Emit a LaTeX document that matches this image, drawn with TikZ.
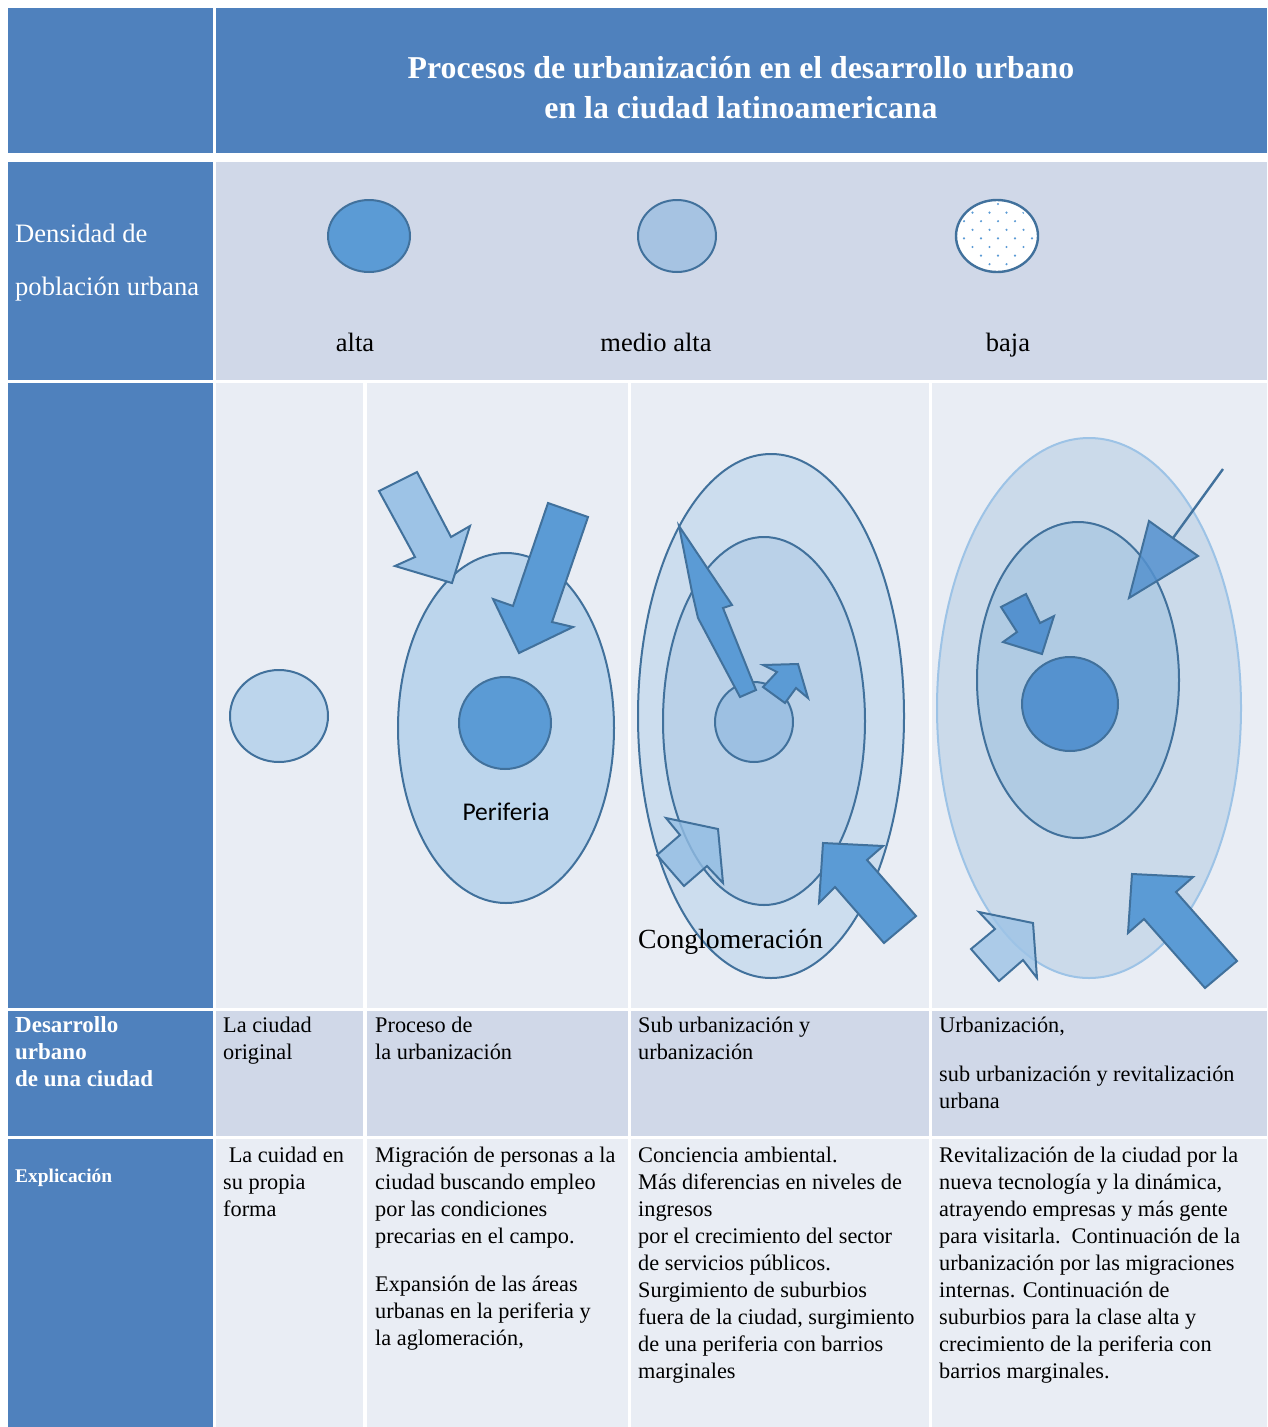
\documentclass[tikz,border=0pt]{standalone}
\usepackage{fontspec}
\setmainfont{Liberation Serif}
\newfontfamily\sansf{Carlito}
\definecolor{cblue}{HTML}{4F81BD}
\definecolor{cmid}{HTML}{D0D8E8}
\definecolor{clight}{HTML}{E9EDF4}
\definecolor{cstroke}{HTML}{41719C}
\definecolor{cdark}{HTML}{5B9BD5}
\definecolor{clightarrow}{HTML}{9DC3E6}
\definecolor{ccircA}{HTML}{BCD5EC}
\definecolor{cmedio}{HTML}{A6C3E2}
\definecolor{couterC}{HTML}{CCDDEE}
\definecolor{cinnerC}{HTML}{BAD1E8}
\definecolor{csmallC}{HTML}{9DC0E2}
\definecolor{couterD}{HTML}{C8D8EA}
\definecolor{cinnerD}{HTML}{B0CBE3}
\definecolor{ccoreD}{HTML}{5592CF}
\tikzset{
  shapeline/.style={draw=cstroke, line width=2pt},
  darkarrow/.style={shapeline, fill=cdark, line join=miter},
  lightarrow/.style={shapeline, fill=clightarrow, fill opacity=0.8, line join=miter},
  bodytext/.style={anchor=base west, inner sep=0pt, font=\fontsize{22.3}{27}\selectfont},
  headtext/.style={anchor=base west, inner sep=0pt, text=white},
}
\newcommand{\cellbox}[2]{\parbox[t]{#1}{\raggedright #2}}
\begin{document}
\begin{tikzpicture}[x=1pt,y=-1pt]
\useasboundingbox (0,0) rectangle (1268,1427);
\fill[white] (0,0) rectangle (1268,1427);
% ---------- table cells ----------
\fill[cblue] (8,8) rectangle (213,153);
\fill[cblue] (216,8) rectangle (1267,153);
\fill[cblue] (8,162) rectangle (213,380);
\fill[cmid] (216,162) rectangle (1267,380);
\fill[cblue] (8,383) rectangle (213,1008);
\fill[clight] (216,383) rectangle (363,1008);
\fill[clight] (367,383) rectangle (628,1008);
\fill[clight] (631,383) rectangle (929,1008);
\fill[clight] (932,383) rectangle (1267,1008);
\fill[cblue] (8,1011) rectangle (213,1136);
\fill[cmid] (216,1011) rectangle (363,1136);
\fill[cmid] (367,1011) rectangle (628,1136);
\fill[cmid] (631,1011) rectangle (929,1136);
\fill[cmid] (932,1011) rectangle (1267,1136);
\fill[cblue] (8,1139) rectangle (213,1427);
\fill[clight] (216,1139) rectangle (363,1427);
\fill[clight] (367,1139) rectangle (628,1427);
\fill[clight] (631,1139) rectangle (929,1427);
\fill[clight] (932,1139) rectangle (1267,1427);
% ---------- title ----------
\node[text=white, font=\bfseries\fontsize{31.8}{40}\selectfont, align=center] (title) at (741,88)
  {Procesos de urbanización en el desarrollo urbano\\en la ciudad latinoamericana};
% ---------- density row ----------
\node[headtext, font=\fontsize{26.6}{53}\selectfont] (dens) at (15,242)
  {\cellbox{200pt}{Densidad de\\población urbana}};
\filldraw[shapeline, fill=cdark] (369,236) ellipse [x radius=41, y radius=36];
\filldraw[shapeline, fill=cmedio] (677,236) ellipse [x radius=39, y radius=36];
\filldraw[shapeline, fill=white, line width=2.4pt] (997,236) ellipse [x radius=41, y radius=36];
\begin{scope}
  \clip (997,236) ellipse [x radius=38, y radius=33];
  \foreach \j in {0,2,4,6,8} {
    \foreach \k in {-3,...,3} {
      \fill[cdark] ({998+17*\k},{204+8.6*\j}) circle (1.2);
    }
  }
  \foreach \j in {1,3,5,7} {
    \foreach \k in {-3,...,3} {
      \fill[cdark] ({989.5+17*\k},{204+8.6*\j}) circle (1.2);
    }
  }
\end{scope}
\node[font=\fontsize{26.5}{30}\selectfont, anchor=base] (alta) at (355,351) {alta};
\node[font=\fontsize{26.5}{30}\selectfont, anchor=base] (medio) at (656,351) {medio alta};
\node[font=\fontsize{26.5}{30}\selectfont, anchor=base] (baja) at (1008,351) {baja};
% ---------- column 1 ----------
\filldraw[shapeline, fill=ccircA] (279,716) ellipse [x radius=49, y radius=46];
% ---------- column 2 ----------
\filldraw[shapeline, fill=ccircA] (506,728) ellipse [x radius=108, y radius=175];
\filldraw[shapeline, fill=cdark] (505,723) ellipse [x radius=46, y radius=46];
\node[font=\sansf\fontsize{25.5}{28}\selectfont] (periferia) at (506,812) {Periferia};
\filldraw[lightarrow, fill opacity=1] (379,491) -- (417,472) -- (451,537) -- (470,526) -- (452,583) -- (395,566) -- (415,557) -- cycle;
\filldraw[darkarrow] (548,503) -- (588,517) -- (552,622) -- (573,627) -- (519,653) -- (493,599) -- (513,606) -- cycle;
% ---------- column 3 ----------
\filldraw[shapeline, fill=couterC] (771,716) ellipse [x radius=133, y radius=262];
\filldraw[shapeline, fill=cinnerC] (764,721) ellipse [x radius=101, y radius=184];
\filldraw[shapeline, fill=csmallC] (754,722) ellipse [x radius=39, y radius=40];
\filldraw[darkarrow] (679,526) -- (732,605) -- (723,608) -- (756,690) -- (740,697) -- (698,618) -- (692,592) -- cycle;
\filldraw[darkarrow] (763,687) -- (777,672) -- (763,665) -- (798,664) -- (808,698) -- (796,688) -- (785,703) -- cycle;
\filldraw[lightarrow, fill=clightarrow!85!cdark] (657,855) -- (680,835) -- (666,818) -- (718,829) -- (723,883) -- (707,866) -- (684,886) -- cycle;
\filldraw[darkarrow] (819,903) -- (823,843) -- (883,846) -- (867,860) -- (916,916) -- (884,943) -- (835,887) -- cycle;
\node[font=\fontsize{27.7}{30}\selectfont, anchor=base west, inner sep=0pt] (conglo) at (638,948) {Conglomeración};
% ---------- column 4 ----------
\filldraw[draw=clightarrow, line width=2pt, fill=couterD, fill opacity=0.9] (1089,708) ellipse [x radius=152, y radius=270];
\filldraw[shapeline, fill=cinnerD] (1078,680) ellipse [x radius=101, y radius=158];
\filldraw[shapeline, fill=ccoreD] (1070,704) ellipse [x radius=48, y radius=47];
\filldraw[darkarrow, fill=ccoreD] (1001,607) -- (1026,594) -- (1040,623) -- (1054,616) -- (1042,654) -- (1003,642) -- (1017,632) -- cycle;
\coordinate (tailD) at (1223,469);
\coordinate (baseD) at (1173,538);
\draw[cstroke, line width=2.4pt] (tailD) -- (baseD);
\filldraw[shapeline, fill=ccoreD, fill opacity=0.85, line join=miter] (1149,521) -- (1198,556) -- (1129,598) -- cycle;
\filldraw[lightarrow] (971,949) -- (995,929) -- (979,912) -- (1033,923) -- (1037,978) -- (1023,960) -- (999,981) -- cycle;
\filldraw[darkarrow] (1128,933) -- (1132,874) -- (1193,877) -- (1176,892) -- (1237,961) -- (1205,988) -- (1144,919) -- cycle;
% ---------- row 4 ----------
\node[headtext, font=\bfseries\fontsize{23}{27}\selectfont] (desarrollo) at (15,1032)
  {\cellbox{195pt}{Desarrollo\\urbano\\de una ciudad}};
\node[bodytext] (r4c1) at (223,1032) {\cellbox{140pt}{La ciudad\\original}};
\node[bodytext] (r4c2) at (375,1032) {\cellbox{250pt}{Proceso de\\la urbanización}};
\node[bodytext] (r4c3) at (638,1032) {\cellbox{290pt}{Sub urbanización y\\urbanización}};
\node[bodytext] (r4c4) at (939,1032) {\cellbox{325pt}{Urbanización,\\[22pt]sub urbanización y revitalización\\urbana}};
% ---------- row 5 ----------
\node[headtext, font=\bfseries\fontsize{19.4}{27}\selectfont] (explic) at (15,1182) {Explicación};
\node[bodytext] (r5c1) at (223,1162) {\cellbox{140pt}{\ La cuidad en\\su propia\\forma}};
\node[bodytext] (r5c2) at (375,1162) {\cellbox{250pt}{Migración de personas a la\\ciudad buscando empleo\\por las condiciones\\precarias en el campo.\\[21pt]Expansión de las áreas\\urbanas en la periferia y\\la aglomeración,}};
\node[bodytext] (r5c3) at (638,1162) {\cellbox{290pt}{Conciencia ambiental.\\Más diferencias en niveles de\\ingresos\\por el crecimiento del sector\\de servicios públicos.\\Surgimiento de suburbios\\fuera de la ciudad, surgimiento\\de una periferia con barrios\\marginales}};
\node[bodytext] (r5c4) at (939,1162) {\cellbox{325pt}{Revitalización de la ciudad por la\\nueva tecnología y la dinámica,\\atrayendo empresas y más gente\\para visitarla.\ \ Continuación de la\\urbanización por las migraciones\\internas. Continuación de\\suburbios para la clase alta y\\crecimiento de la periferia con\\barrios marginales.}};
\end{tikzpicture}
\end{document}
